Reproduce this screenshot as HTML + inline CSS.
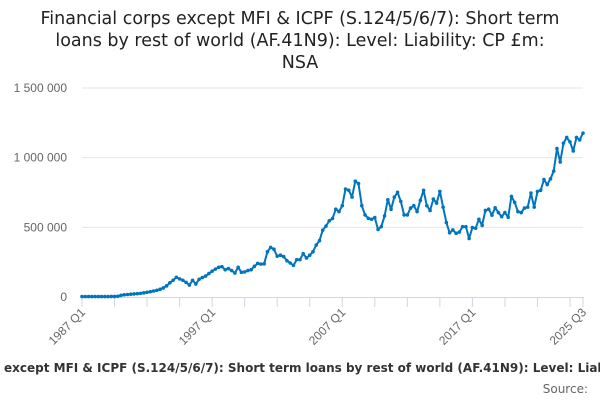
<!DOCTYPE html>
<html><head><meta charset="utf-8"><style>
html,body{margin:0;padding:0;background:#fff;}
svg{display:block;font-family:"Liberation Sans","DejaVu Sans",sans-serif;}
</style></head><body>
<svg id="chart" width="600" height="400" viewBox="0 0 600 400">
<g fill="#222" font-size="17.5" text-anchor="middle" font-family="DejaVu Sans, Liberation Sans, sans-serif">
<text x="300" y="24">Financial corps except MFI &amp; ICPF (S.124/5/6/7): Short term</text>
<text x="300" y="46">loans by rest of world (AF.41N9): Level: Liability: CP £m:</text>
<text x="300" y="68">NSA</text>
</g>
<g id="grid"></g>
<g id="yaxis"></g>
<g id="xaxis"></g>
<g id="series"></g>
<text x="4" y="372" font-size="12" font-weight="bold" fill="#333" font-family="DejaVu Sans, Liberation Sans, sans-serif">except MFI &amp; ICPF (S.124/5/6/7): Short term loans by rest of world (AF.41N9): Level: Liability: CP £m: NSA</text>
<text x="588" y="393" font-size="12" fill="#666" text-anchor="end" font-family="DejaVu Sans, Liberation Sans, sans-serif">Source:</text>
</svg>
<script>
const values = [3,3,3,3,3,3,3,3,3,4,4,5,
12,16,18,20,22,24,26,30,34,38,
43,48,55,65,80,102,120,141,130,120,
105,86,120,93,127,140,150,168,185,200,
213,218,196,204,190,172,213,177,180,190,
196,220,241,236,238,325,356,343,293,300,
290,260,244,227,268,268,311,280,300,325,
373,404,480,509,547,563,
630,613,655,775,766,717,831,814,655,589,565,558,570,485,505,582,698,630,717,751,686,589,589,638,655,613,693,766,655,621,703,674,758,645,534,461,481,457,466,505,505,420,498,493,558,514,621,630,587,640,606,577,606,572,722,679,613,606,638,645,746,645,758,766,843,807,848,903,1065,969,1104,1145,1113,1048,1145,1128,1176];
const yTicks = [0,500000,1000000,1500000];
const yTickLabels = ["0","500 000","1 000 000","1 500 000"];
const startYear = 1987;
const categories = values.map((v,i)=>(startYear+Math.floor(i/4))+" Q"+(i%4+1));
const labelIdx = [0,40,80,120,values.length-1];

const NS="http://www.w3.org/2000/svg";
const X0=82,X1=583,Y0=297,Y1=88,YMAX=1500000;
const xs=i=>X0+(X1-X0)*i/(values.length-1);
const ys=v=>Y0-(Y0-Y1)*v/YMAX;
function mk(t,a,p){const e=document.createElementNS(NS,t);for(const k in a)e.setAttribute(k,a[k]);p.appendChild(e);return e;}
const grid=document.getElementById('grid'),ya=document.getElementById('yaxis'),xa=document.getElementById('xaxis'),ser=document.getElementById('series');
yTicks.forEach((t,i)=>{
  if(i>0){const g=mk('line',{x1:X0,x2:X1,y1:ys(t),y2:ys(t),stroke:'#e6e6e6','stroke-width':1},grid);
  
  }
  const l=mk('text',{x:67,y:ys(t)+4,'text-anchor':'end','font-size':12,fill:'#666'},ya);
  l.textContent=yTickLabels[i];
  
  
});
const ax=mk('line',{x1:X0,x2:X1+1,y1:Y0+0.5,y2:Y0+0.5,stroke:'#ccd6eb','stroke-width':1},xa);


for(let i=0;i<values.length;i+=10){
  const t=mk('line',{x1:xs(i),x2:xs(i),y1:Y0,y2:Y0+10,stroke:'#ccd6eb'},xa);
  
  
}
const lt=mk('line',{x1:xs(values.length-1),x2:xs(values.length-1),y1:Y0,y2:Y0+10,stroke:'#ccd6eb'},xa);


labelIdx.forEach(i=>{
  const x=xs(i)+4,y=Y0+16;
  const l=mk('text',{x:x,y:y,'text-anchor':'end','font-size':12,fill:'#666',transform:`rotate(-45 ${x} ${y})`},xa);
  l.textContent=categories[i];
  
  
});
const pts=values.map((v,i)=>xs(i).toFixed(1)+','+ys(v*1000).toFixed(1)).join(' ');
const pl=mk('polyline',{points:pts,fill:'none',stroke:'#0075be','stroke-width':2,'stroke-linejoin':'round'},ser);


values.forEach((v,i)=>{
  const c=mk('circle',{cx:xs(i),cy:ys(v*1000),r:1.8,fill:'#0075be'},ser);
  
  
});
</script>
</body></html>
